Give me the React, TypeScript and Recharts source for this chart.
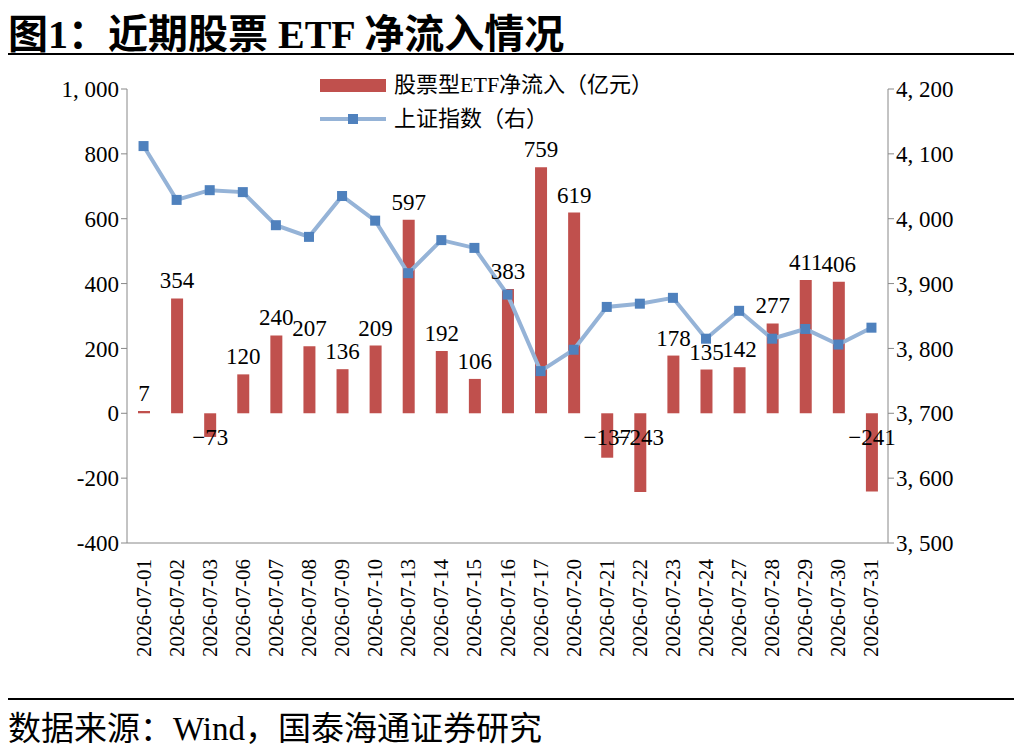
import React from "react";
import { ComposedChart, Bar, Line, XAxis, YAxis, LabelList } from "recharts";

const dates = ["2026-07-01","2026-07-02","2026-07-03","2026-07-06","2026-07-07","2026-07-08","2026-07-09","2026-07-10","2026-07-13","2026-07-14","2026-07-15","2026-07-16","2026-07-17","2026-07-20","2026-07-21","2026-07-22","2026-07-23","2026-07-24","2026-07-27","2026-07-28","2026-07-29","2026-07-30","2026-07-31"];
const etfFlow = [7,354,-73,120,240,207,136,209,597,192,106,383,759,619,-137,-243,178,135,142,277,411,406,-241];
const shIndex = [4112,4029,4044,4041,3990,3972,4035,3997,3916,3967,3955,3883,3765,3798,3864,3869,3878,3815,3858,3815,3830,3806,3832];
const leftTicks = [-400,-200,0,200,400,600,800,1000];
const rightTicks = [3500,3600,3700,3800,3900,4000,4100,4200];

const data = dates.map((d, i) => ({ date: d, flow: etfFlow[i], idx: shIndex[i] }));
const FONT = "'Liberation Serif', 'Noto Sans CJK SC', serif";
const fmt = (v: number) => v.toLocaleString("en-US").replace(",", ", ");

const XTick = (p: any) => (
  <text x={p.x + 7} y={p.y + 8} transform={`rotate(-90 ${p.x + 7} ${p.y + 8})`} textAnchor="end" fontSize={21} fontFamily={FONT} fill="#000">{p.payload.value}</text>
);

const BarLabel = (p: any) => {
  const v = p.value;
  const cx = p.x + p.width / 2;
  const y = v >= 0 ? p.y - 10 : p.y + p.height + 32;
  return <text x={cx} y={y} textAnchor="middle" fontSize={23} fontFamily={FONT} fill="#000">{v < 0 ? "\u2212" + Math.abs(v) : v}</text>;
};

const Square = (p: any) => <rect key={p.index} x={p.cx - 5} y={p.cy - 5} width={10} height={10} fill="#4F81BD" />;

export default function App() {
  return (
    <div style={{ position: "relative", width: 1014, height: 742, fontFamily: FONT }}>
      <div style={{ position: "absolute", left: 0, top: -6, fontSize: 40, fontWeight: "bold", fontFamily: FONT, whiteSpace: "nowrap" }}>图1：近期股票 ETF 净流入情况</div>
      <div style={{ position: "absolute", left: -8, top: 45, width: 1022, height: 2, background: "#000" }} />
      <div style={{ position: "absolute", left: 0, top: 48 }}>
        <ComposedChart width={1014} height={634} data={data} margin={{ top: 33, right: 34, left: 0, bottom: 0 }}>
          <XAxis dataKey="date" interval={0} tick={<XTick />} height={147} stroke="#888" tickLine={false} />
          <YAxis yAxisId="l" domain={[-400, 1000]} ticks={leftTicks} tickFormatter={(v: number) => (v < 0 ? "-" + Math.abs(v) : fmt(v))} width={119} stroke="#888" tick={{ fontSize: 23, fill: "#000", fontFamily: FONT }} />
          <YAxis yAxisId="r" orientation="right" domain={[3500, 4200]} ticks={rightTicks} tickFormatter={fmt} width={100} stroke="#888" tick={{ fontSize: 23, fill: "#000", fontFamily: FONT }} />
          <Bar yAxisId="l" dataKey="flow" fill="#C0504D" barSize={12} isAnimationActive={false}>
            <LabelList dataKey="flow" content={<BarLabel />} />
          </Bar>
          <Line yAxisId="r" dataKey="idx" stroke="#95B3D7" strokeWidth={4} dot={<Square />} activeDot={false} isAnimationActive={false} />
        </ComposedChart>
      </div>
      <div style={{ position: "absolute", left: 312, top: 60, fontFamily: FONT, fontSize: 22, lineHeight: "34px", background: "#fff" }}>
        <div style={{ display: "flex", alignItems: "center" }}>
          <span style={{ display: "inline-block", width: 66, height: 13, background: "#C0504D", marginRight: 8 }} />股票型ETF净流入（亿元）
        </div>
        <div style={{ display: "flex", alignItems: "center" }}>
          <span style={{ position: "relative", display: "inline-block", width: 66, height: 12, marginRight: 8 }}>
            <span style={{ position: "absolute", left: 0, top: 4, width: 66, height: 4, background: "#95B3D7" }} />
            <span style={{ position: "absolute", left: 28, top: 1, width: 10, height: 10, background: "#4F81BD" }} />
          </span>上证指数（右）
        </div>
      </div>
      <div style={{ position: "absolute", left: -8, top: 690, width: 1022, height: 2, background: "#000" }} />
      <div style={{ position: "absolute", left: 0, top: 694, fontSize: 33, fontFamily: FONT, whiteSpace: "nowrap" }}>数据来源：Wind，国泰海通证券研究</div>
    </div>
  );
}
